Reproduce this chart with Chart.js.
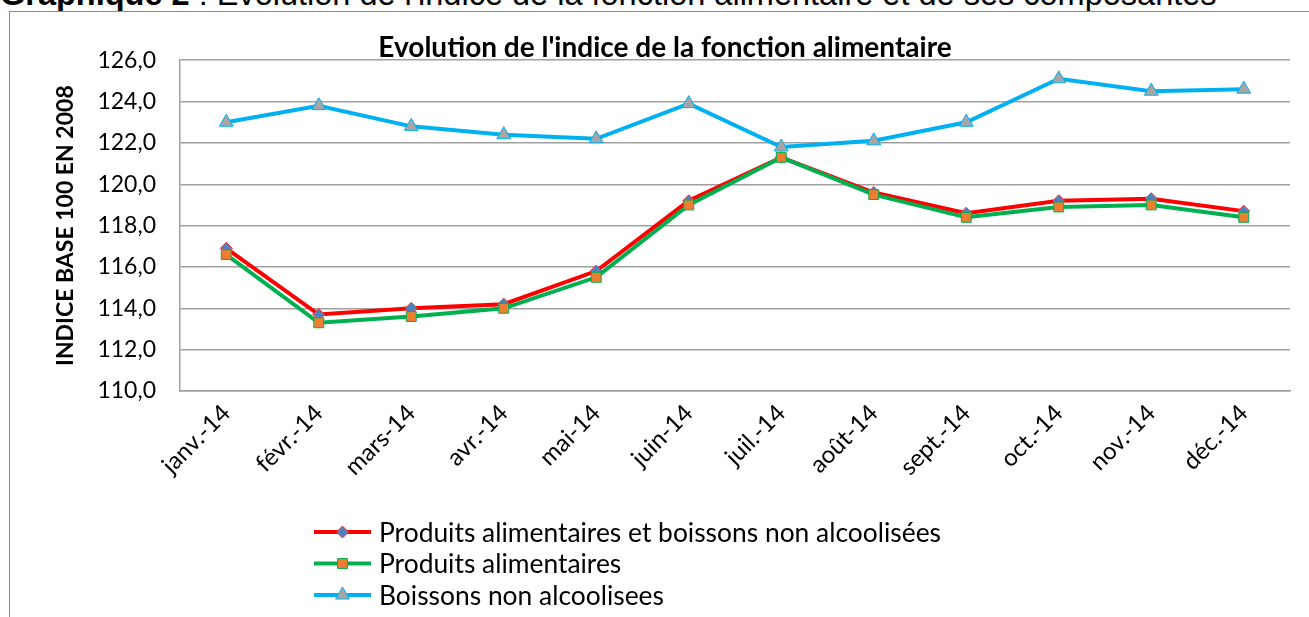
<!DOCTYPE html>
<html>
<head>
<meta charset="utf-8">
<script src="https://cdn.jsdelivr.net/npm/chart.js@4/dist/chart.umd.min.js"></script>
<style>
    body { margin: 0; background: #fff; width: 1309px; height: 617px; overflow: hidden; position: relative; }
    #entete { position: absolute; left: 0; top: -22px; font-family: 'Liberation Sans', Arial, sans-serif; font-size: 32.5px; line-height: 32px; white-space: nowrap; color: #000; }
    #cadre { position: absolute; left: 9px; top: 11px; width: 1400px; height: 700px; border: 1px solid #8c8c8c; box-sizing: border-box; }
    #graphe { position: absolute; left: 0; top: 0; }
</style>
</head>
<body>
<div id="entete"><b>Graphique 2</b> : Evolution de l'indice de la fonction  alimentaire et de ses composantes</div>
<div id="cadre"></div>
<canvas id="graphe" width="1309" height="617"></canvas>
<script>
//Données - indices mensuels 2014
var mois = ['janv.-14', 'févr.-14', 'mars-14', 'avr.-14', 'mai-14', 'juin-14', 'juil.-14', 'août-14', 'sept.-14', 'oct.-14', 'nov.-14', 'déc.-14'];
var tab_AlimBoissons = [116.9, 113.7, 114.0, 114.2, 115.8, 119.2, 121.3, 119.6, 118.6, 119.2, 119.3, 118.7];
var tab_Alimentaires = [116.6, 113.3, 113.6, 114.0, 115.5, 119.0, 121.3, 119.5, 118.4, 118.9, 119.0, 118.4];
var tab_Boissons = [123.0, 123.8, 122.8, 122.4, 122.2, 123.9, 121.8, 122.1, 123.0, 125.1, 124.5, 124.6];
var graduations = [110, 112, 114, 116, 118, 120, 122, 124, 126];

var policeTexte = "Lato, 'Open Sans', sans-serif";

//Légende verticale sous le graphique (une ligne par série)
var legendeVerticale = {
    id: 'legendeVerticale',
    afterDraw: function (chart) {
        var ctx = chart.ctx;
        var x0 = 314, x1 = 371, yDebut = 532, pas = 31.5;
        ctx.save();
        chart.data.datasets.forEach(function (ds, i) {
            var y = yDebut + i * pas;
            ctx.strokeStyle = ds.borderColor;
            ctx.lineWidth = 4;
            ctx.beginPath();
            ctx.moveTo(x0, y);
            ctx.lineTo(x1, y);
            ctx.stroke();
            ctx.fillStyle = ds.pointBackgroundColor;
            ctx.strokeStyle = ds.pointBorderColor;
            ctx.lineWidth = 1;
            if (Chart.helpers && Chart.helpers.drawPoint) {
                Chart.helpers.drawPoint(ctx, { pointStyle: ds.pointStyle, radius: ds.pointRadius, borderWidth: 1, rotation: 0 }, (x0 + x1) / 2, y);
            }
            ctx.fillStyle = '#000';
            ctx.font = '26.4px ' + policeTexte;
            ctx.textBaseline = 'middle';
            ctx.textAlign = 'left';
            ctx.fillText(ds.label, 379, y + 1);
        });
        ctx.restore();
    }
};

function DisplayGraphIndiceAlimentaire(graphId) {
    var ctx = document.getElementById(graphId).getContext('2d');
    var chart = new Chart(ctx, {
        type: 'line',
        data: {
            labels: mois,
            datasets: [{
                label: 'Produits alimentaires et boissons non alcoolisées',
                data: tab_AlimBoissons,
                borderColor: '#FF0000',
                borderWidth: 4,
                pointStyle: 'rectRot',
                pointRadius: 6,
                pointBackgroundColor: '#4F81BD',
                pointBorderColor: '#FF3030',
                pointBorderWidth: 1,
                order: 3
            }, {
                label: 'Produits alimentaires',
                data: tab_Alimentaires,
                borderColor: '#00B050',
                borderWidth: 4,
                pointStyle: 'rect',
                pointRadius: 7,
                pointBackgroundColor: '#ED7D31',
                pointBorderColor: '#00B050',
                pointBorderWidth: 1,
                order: 2
            }, {
                label: 'Boissons non alcoolisees',
                data: tab_Boissons,
                borderColor: '#00B0F0',
                borderWidth: 4,
                pointStyle: 'triangle',
                pointRadius: 8,
                pointBackgroundColor: '#A5A5A5',
                pointBorderColor: '#00B0F0',
                pointBorderWidth: 1,
                order: 1
            }]
        },
        options: {
            responsive: false,
            animation: false,
            layout: { padding: { left: 40, right: 19, top: 0, bottom: 0 } },
            plugins: {
                legend: { display: false },
                tooltip: { enabled: false },
                title: {
                    display: true,
                    text: "Evolution de l'indice de la fonction alimentaire",
                    color: '#000',
                    font: { family: policeTexte, size: 28, weight: 'bold', lineHeight: 0.9 },
                    padding: { top: 35, bottom: 0 }
                }
            },
            scales: {
                x: {
                    offset: true,
                    grid: { display: false, drawTicks: false, offset: true },
                    border: { display: true, color: '#a0a0a0', width: 1.5 },
                    ticks: {
                        color: '#000',
                        font: { family: policeTexte, size: 24 },
                        maxRotation: 45,
                        minRotation: 45,
                        padding: 8
                    },
                    afterFit: function (scale) { scale.height = 226; }
                },
                y: {
                    min: 110,
                    max: 126,
                    afterBuildTicks: function (scale) {
                        scale.ticks = graduations.map(function (v) { return { value: v }; });
                    },
                    grid: { color: '#a0a0a0', lineWidth: 1.5, drawTicks: false },
                    border: { display: true, color: '#a0a0a0', width: 1.5 },
                    ticks: {
                        color: '#000',
                        font: { family: policeTexte, size: 23 },
                        padding: 24,
                        callback: function (v) { return v.toFixed(1).replace('.', ','); }
                    },
                    title: {
                        display: true,
                        text: 'INDICE BASE 100 EN 2008',
                        color: '#000',
                        font: { family: policeTexte, size: 23, weight: 'bold' },
                        padding: { top: 12, bottom: 0 }
                    },
                    afterFit: function (scale) { scale.width = 140; }
                }
            }
        },
        plugins: [legendeVerticale]
    });
    return chart;
}

DisplayGraphIndiceAlimentaire('graphe');
</script>
</body>
</html>
